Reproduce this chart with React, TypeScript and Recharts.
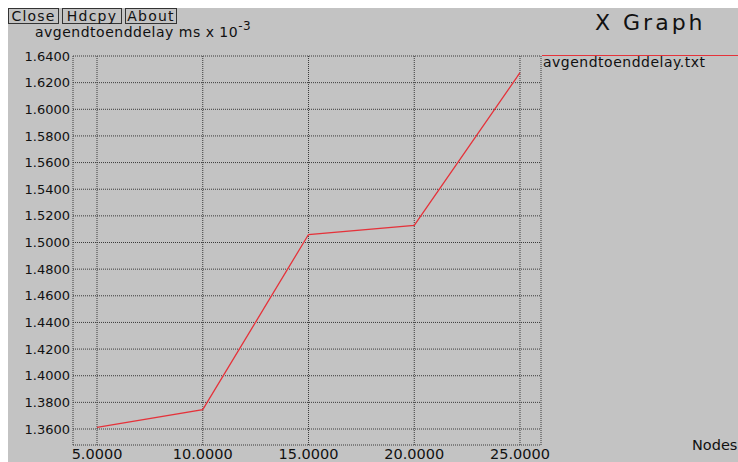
import React from "react";
import { LineChart, Line, XAxis, YAxis, CartesianGrid } from "recharts";

// values
const nodes = [5, 10, 15, 20, 25];
const avgDelay = [1.3612, 1.3745, 1.506, 1.5128, 1.6275];

const xTicks = [5, 10, 15, 20, 25];
const yTicks = [
  1.36, 1.38, 1.4, 1.42, 1.44, 1.46, 1.48, 1.5, 1.52, 1.54, 1.56, 1.58, 1.6, 1.62, 1.64,
];

const buttons = ["Close", "Hdcpy", "About"];
const seriesName = "avgendtoenddelay.txt";

const data = nodes.map((n, i) => ({ nodes: n, delay: avgDelay[i] }));

const BG = "#c3c3c3";
const RED = "#e5323a";
const FONT = "'DejaVu Sans', 'Liberation Sans', sans-serif";

const App: React.FC = () => {
  const btnWidths = [51, 60, 52];
  let bx = 0;
  return (
    <div style={{ position: "fixed", left: 8, top: 8, width: 730, height: 454, background: BG, fontFamily: FONT }}>
      {buttons.map((b, i) => {
        const left = bx;
        bx += btnWidths[i] + 3;
        return (
          <div
            key={b}
            style={{
              position: "absolute",
              left,
              top: 0,
              width: btnWidths[i],
              height: 16,
              boxSizing: "border-box",
              border: "1px solid #333",
              fontSize: 14,
              lineHeight: "15px",
              letterSpacing: 1.2,
              textAlign: "center",
              color: "#111",
            }}
          >
            {b}
          </div>
        );
      })}

      <div
        style={{ position: "absolute", left: 587, top: 4, fontSize: 22, lineHeight: "22px", letterSpacing: 3, color: "#111", whiteSpace: "nowrap" }}
      >
        X Graph
      </div>

      <div
        style={{ position: "absolute", left: 27, top: 17, fontSize: 14, lineHeight: "14px", letterSpacing: 0.5, color: "#111", whiteSpace: "nowrap" }}
      >
        avgendtoenddelay ms x 10
        <span style={{ position: "relative", top: -7, fontSize: 12 }}>-3</span>
      </div>

      <div
        style={{ position: "absolute", left: 684, top: 430, fontSize: 14.5, lineHeight: "15px", color: "#111", whiteSpace: "nowrap" }}
      >
        Nodes
      </div>

      {/* legend: line + file name, right of the plot */}
      <div style={{ position: "absolute", left: 534, top: 47, width: 196, height: 1, background: RED }} />
      <div
        style={{ position: "absolute", left: 535, top: 47, fontSize: 14, lineHeight: "14px", letterSpacing: 0.5, color: "#111", whiteSpace: "nowrap" }}
      >
        {seriesName}
      </div>

      <div style={{ position: "absolute", left: 0, top: 0 }}>
        <LineChart width={730} height={454} data={data} margin={{ top: 48, right: 197, left: 0, bottom: 0 }} style={{ overflow: "visible" }}>
          <CartesianGrid stroke="#3a3a3a" strokeDasharray="1 1" />
          <XAxis
            dataKey="nodes"
            type="number"
            domain={[3.865, 25.993]}
            ticks={xTicks}
            allowDataOverflow
            height={17}
            axisLine={false}
            tickLine={false}
            tickSize={0}
            tickMargin={4}
            tick={{ fill: "#111", fontSize: 14.5 }}
            tickFormatter={(v: number) => v.toFixed(4)}
            interval={0}
          />
          <YAxis
            type="number"
            domain={[1.348, 1.64]}
            ticks={yTicks}
            allowDataOverflow
            width={65}
            axisLine={false}
            tickLine={false}
            tickSize={0}
            tickMargin={3}
            tick={{ fill: "#111", fontSize: 13 }}
            tickFormatter={(v: number) => v.toFixed(4)}
            interval={0}
          />
          <Line
            name={seriesName}
            type="linear"
            dataKey="delay"
            stroke={RED}
            strokeWidth={1.3}
            dot={false}
            activeDot={false}
            isAnimationActive={false}
          />
        </LineChart>
      </div>
    </div>
  );
};

export default App;
